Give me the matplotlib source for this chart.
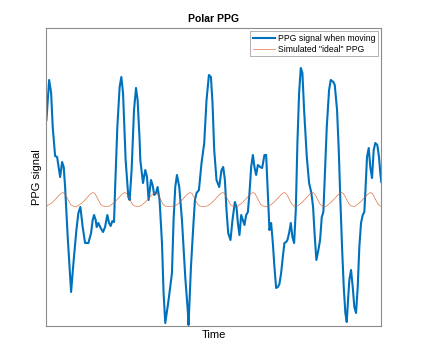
import matplotlib
matplotlib.use("Agg")
import matplotlib.pyplot as plt

plt.rcParams["font.family"] = ["Liberation Sans", "DejaVu Sans"]

# PPG measured while moving (sample index, arbitrary amplitude)
t_moving = [0, 2.7, 4.7, 6.3, 8.7, 10.7, 13.7, 15.7, 17.3, 18.7, 21.3, 24.7, 27.3, 30, 32, 34,
            36.3, 38.7, 42, 44.7, 46.3, 47.7, 49.3, 50.3, 52, 54.3, 56.7, 58.7, 61, 62.7, 64.3,
            66, 67.7, 68.7, 71, 73.3, 75, 76.7, 79.3, 82, 83.3, 85.3, 87.7, 89.7, 91.3, 93.3,
            94, 96.7, 99, 100.7, 102.3, 104.7, 106.3, 108, 109.7, 111.3, 113.3, 115.7, 117.3,
            119, 122.3, 125.7, 127.3, 129, 130.7, 133, 135.7, 139, 141.7, 142.3, 144.7, 147,
            148.7, 150.3, 152.7, 155.3, 158, 160.3, 162.7, 164.7, 166.3, 168, 170.3, 173, 175.3,
            177, 178.7, 180.3, 182, 184.3, 186.3, 188.7, 190.3, 191.7, 193.3, 195, 196.7, 198.3,
            200, 201.7, 203.3, 205, 206.7, 208.3, 210, 211.7, 214, 216, 218.3, 220, 221.7,
            223.3, 225, 226.7, 228.3, 230, 231.7, 233.3, 235, 236.7, 238.3, 240, 241.3, 243,
            244.7, 246.3, 248, 249.7, 251.3, 253, 254.7, 256.3, 258, 260.7, 263, 265.3, 267,
            268.7, 270.3, 272.3, 274, 275.7, 277.3, 279, 280.7, 283, 284.7, 287.3, 288.7, 291,
            292.7, 294.3, 296, 297.7, 299.3, 300.7, 302, 303.3, 305, 306.7, 308.3, 310, 311.7,
            313.3, 315, 316.7, 318.3, 319.3, 321, 322.7, 324.3, 326, 327.7, 329.3, 331.3, 333,
            334.3, 335.3]
ppg_moving = [80, 120, 107, 73, 44, 43, 23, 38, 33, 13, -37, -92, -60, -30, -13, -7,
              -27, -43, -43, -33, -20, -15, -20, -27, -23, -28, -32, -27, -15, -23, -26,
              -21, -22, 10, 73, 113, 123, 107, 40, 3, 0, 30, 90, 112, 100, 60,
              40, 17, 30, 23, 0, 20, 15, 5, 7, 13, 0, -43, -93,
              -123, -100, -73, -20, 13, 25, 13, -20, -77, -113, -125, -67, -27,
              0, 7, 10, 37, 57, 100, 125, 123, 97, 50, 20, 13, 30,
              33, 20, -10, -33, -40, -20, -2, -7, -23, -35, -15, -20, -25,
              -15, -12, 7, 33, 45, 33, 25, 35, 33, 32, 45, 45, 7,
              -30, -23, -43, -67, -88, -87, -84, -73, -57, -43, -42, -40, -33,
              -23, -37, -43, -10, 57, 107, 132, 127, 90, 43, 17, 7, -7,
              -37, -60, -50, -40, -17, -12, 30, 73, 110, 120, 118, 115, 90,
              50, 0, -47, -87, -113, -122, -100, -80, -70, -87, -107, -113, -87,
              -47, -23, -15, -12, 7, 43, 52, 33, 22, 50, 57, 55, 43,
              27, 18]

# simulated "ideal" PPG
t_ideal = [0, 5.3, 9.3, 13.3, 16.3, 18.3, 20.3, 22.3, 24.3, 26.3, 29.3,
           31.5, 35.5, 39.5, 43.5, 46.5, 48.5, 50.5, 52.5, 54.5, 56.5, 59.5,
           63.3, 67.3, 71.3, 75.3, 78.3, 80.3, 82.3, 84.3, 86.3, 88.3, 91.3,
           94, 98, 102, 106, 109, 111, 113, 115, 117, 119, 122,
           128.7, 132.7, 136.7, 140.7, 143.7, 145.7, 147.7, 149.7, 151.7, 153.7, 156.7,
           161.3, 165.3, 169.3, 173.3, 176.3, 178.3, 180.3, 182.3, 184.3, 186.3, 189.3,
           191.7, 195.7, 199.7, 203.7, 206.7, 208.7, 210.7, 212.7, 214.7, 216.7, 219.7,
           223, 227, 231, 235, 238, 240, 242, 244, 246, 248,
           251.3, 255.3, 259.3, 263.3, 266.3, 268.3, 270.3, 272.3, 274.3, 276.3, 279.3,
           280.3, 284.3, 288.3, 292.3, 295.3, 297.3, 299.3, 301.3, 303.3, 305.3, 308.3,
           309.3, 313.3, 317.3, 321.3, 324.3, 326.3, 328.3, 330.3, 332.3, 334.3, 335.3]
ppg_ideal = [-6, -3, 1, 5.5, 7.5, 6.5, 3, -1, -4.5, -6, -6.5,
             -6, -3, 1, 5.5, 7.5, 6.5, 3, -1, -4.5, -6, -6.5,
             -6, -3, 1, 5.5, 7.5, 6.5, 3, -1, -4.5, -6, -6.5,
             -6, -3, 1, 5.5, 7.5, 6.5, 3, -1, -4.5, -6, -6.5,
             -6, -3, 1, 5.5, 7.5, 6.5, 3, -1, -4.5, -6, -6.5,
             -6, -3, 1, 5.5, 7.5, 6.5, 3, -1, -4.5, -6, -6.5,
             -6, -3, 1, 5.5, 7.5, 6.5, 3, -1, -4.5, -6, -6.5,
             -6, -3, 1, 5.5, 7.5, 6.5, 3, -1, -4.5, -6,
             -6, -3, 1, 5.5, 7.5, 6.5, 3, -1, -4.5, -6, -6.5,
             -6, -3, 1, 5.5, 7.5, 6.5, 3, -1, -4.5, -6, -6.5,
             -6, -3, 1, 5.5, 7.5, 6.5, 3, -1, -4.5, -6, -6.3]

fig = plt.figure(figsize=(4.38, 3.62), dpi=100)
ax = fig.add_axes([0.106, 0.0994, 0.765, 0.8233])

ax.plot(t_moving, ppg_moving, color="#0072BD", linewidth=1.5, label="PPG signal when moving")
ax.plot(t_ideal, ppg_ideal, color="#D95319", linewidth=0.5, alpha=0.8, label='Simulated "ideal" PPG')

ax.set_xlim(0, 335.5)
ax.set_ylim(-126, 172)
ax.set_xticks([])
ax.set_yticks([])
for s in ax.spines.values():
    s.set_color("#8c8c8c")
    s.set_linewidth(0.8)

ax.set_title("Polar PPG", fontsize=7.5, fontweight="bold", pad=4)
ax.set_xlabel("Time", fontsize=8, labelpad=3)
ax.set_ylabel("PPG signal", fontsize=8, labelpad=3)

leg = ax.legend(loc="upper right", fontsize=6.2, frameon=True, fancybox=False,
                handlelength=2.6, handletextpad=0.3, borderpad=0.3, labelspacing=0.2,
                borderaxespad=0.4)
leg.get_frame().set_edgecolor("#8c8c8c")
leg.get_frame().set_linewidth(0.6)

fig.savefig("out.png", dpi=100)
